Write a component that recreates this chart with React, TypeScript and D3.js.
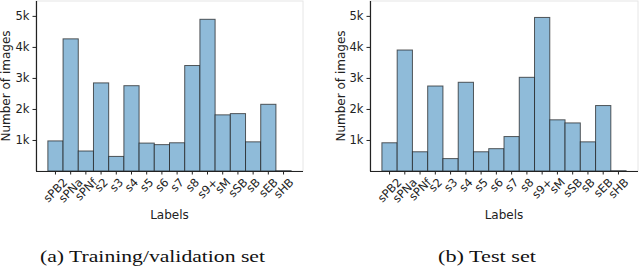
import { useEffect, useRef } from 'react';
import * as d3 from 'd3';

const labels = ['sPB2', 'sPNa', 'sPNf', 's2', 's3', 's4', 's5', 's6', 's7', 's8', 's9+', 'sM', 'sSB', 'sB', 'sEB', 'sHB'];

const trainCounts = [970, 4260, 645, 2840, 470, 2750, 900, 850, 910, 3400, 4890, 1810, 1850, 940, 2150, 10];
const testCounts = [910, 3900, 620, 2740, 400, 2860, 620, 720, 1110, 3020, 4950, 1650, 1550, 940, 2110, 10];

const yTicks = [1000, 2000, 3000, 4000, 5000];

const captions = ['(a) Training/validation set', '(b) Test set'];

const W = 640;
const H = 268;

export default function App() {
  const ref = useRef<SVGSVGElement | null>(null);

  useEffect(() => {
    if (!ref.current) return;
    const svg = d3.select(ref.current);
    svg.selectAll('*').remove();

    const panels = [
      { values: trainCounts, x0: 36, x1: 303, yLabelX: 10, caption: captions[0], capX: 152.5, capW: 225 },
      { values: testCounts, x0: 370, x1: 638, yLabelX: 345, caption: captions[1], capX: 487, capW: 98 }
    ];
    const top = 1;
    const bottom = 171;

    const y = d3.scaleLinear().domain([0, 5480]).range([bottom, top]);

    panels.forEach((p) => {
      const g = svg.append('g');
      const x = d3.scaleBand<string>().domain(labels).range([p.x0, p.x1]).paddingInner(0).paddingOuter(0.78);

      // light frame (top / right)
      g.append('rect')
        .attr('x', p.x0)
        .attr('y', top)
        .attr('width', p.x1 - p.x0)
        .attr('height', bottom - top)
        .attr('fill', 'none')
        .attr('stroke', '#e6e6e6')
        .attr('stroke-width', 1);

      // bars
      g.selectAll('.bar')
        .data(p.values)
        .enter()
        .append('rect')
        .attr('class', 'bar')
        .attr('x', (_, i) => x(labels[i]) as number)
        .attr('y', (d) => y(d))
        .attr('width', x.bandwidth())
        .attr('height', (d) => bottom - y(d))
        .attr('fill', '#8fbbd9')
        .attr('stroke', '#1a1a1a')
        .attr('stroke-opacity', 0.7)
        .attr('stroke-width', 1);

      // y axis
      const yAxis = g
        .append('g')
        .attr('transform', `translate(${p.x0},0)`)
        .call(
          d3
            .axisLeft(y)
            .tickValues(yTicks)
            .tickSize(3.5)
            .tickPadding(3)
            .tickFormat((d) => `${(d as number) / 1000}k`)
        );
      yAxis.select('.domain').attr('d', `M0.5,${top}V${bottom}`).attr('stroke', '#222').attr('stroke-width', 1.2);
      yAxis.selectAll('.tick line').attr('stroke', '#222');
      yAxis.selectAll('text').attr('font-family', 'DejaVu Sans').attr('font-size', 11.5).attr('fill', '#222');

      // x axis
      const xAxis = g
        .append('g')
        .attr('transform', `translate(0,${bottom})`)
        .call(d3.axisBottom(x).tickSize(3.5).tickFormat(() => ''));
      xAxis.select('.domain').attr('d', `M${p.x0},0.5H${p.x1}`).attr('stroke', '#222').attr('stroke-width', 1.2);
      xAxis.selectAll('.tick line').attr('stroke', '#222');

      // rotated tick labels, box-centred on the tick
      const fs = 11.5;
      labels.forEach((lab) => {
        const cx = (x(lab) as number) + x.bandwidth() / 2;
        const t = g
          .append('text')
          .attr('font-family', 'DejaVu Sans')
          .attr('font-size', fs)
          .attr('fill', '#222')
          .attr('text-anchor', 'middle')
          .attr('dominant-baseline', 'central')
          .text(lab);
        const w = (t.node() as SVGTextElement).getComputedTextLength();
        const half = (w + fs * 0.8) / (2 * Math.SQRT2);
        t.attr('transform', `translate(${cx},${bottom + 6 + half}) rotate(-45)`);
      });

      // axis titles
      g.append('text')
        .attr('x', (p.x0 + p.x1) / 2)
        .attr('y', 219)
        .attr('text-anchor', 'middle')
        .attr('font-family', 'DejaVu Sans')
        .attr('font-size', 12)
        .attr('fill', '#222')
        .text('Labels');

      g.append('text')
        .attr('transform', `translate(${p.yLabelX},86) rotate(-90)`)
        .attr('text-anchor', 'middle')
        .attr('font-family', 'DejaVu Sans')
        .attr('font-size', 12)
        .attr('fill', '#222')
        .text('Number of images');

      // caption
      g.append('text')
        .attr('x', p.capX)
        .attr('y', 261.5)
        .attr('text-anchor', 'middle')
        .attr('font-family', 'Liberation Serif')
        .attr('font-size', 17)
        .attr('textLength', p.capW)
        .attr('lengthAdjust', 'spacingAndGlyphs')
        .attr('fill', '#111')
        .text(p.caption);
    });
  }, []);

  return (
    <svg
      ref={ref}
      width={W}
      height={H}
      style={{ position: 'absolute', left: 0, top: 0, background: '#fff' }}
    />
  );
}
